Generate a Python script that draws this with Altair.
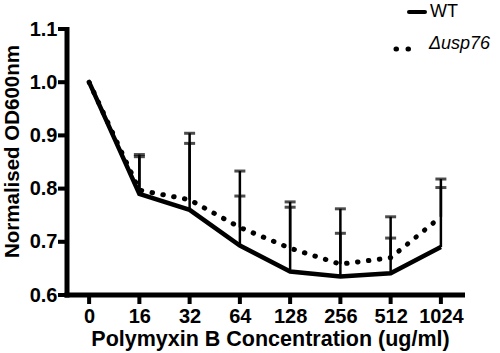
import altair as alt
import pandas as pd

conc = ["0", "16", "32", "64", "128", "256", "512", "1024"]
wt_mean = [1.0, 0.79, 0.76, 0.693, 0.644, 0.635, 0.641, 0.69]
wt_upper = [1.0, 0.864, 0.904, 0.833, 0.775, 0.762, 0.747, 0.818]
usp_mean = [1.0, 0.797, 0.779, 0.727, 0.688, 0.658, 0.670, 0.747]
usp_upper = [1.0, 0.860, 0.885, 0.786, 0.765, 0.716, 0.707, 0.802]
y_ticks = [0.6, 0.7, 0.8, 0.9, 1.0, 1.1]

series_names = ["WT", "Δusp76"]

rows = []
for i, c in enumerate(conc):
    rows.append({"conc": c, "series": "WT", "mean": wt_mean[i], "upper": wt_upper[i]})
    rows.append({"conc": c, "series": "Δusp76", "mean": usp_mean[i], "upper": usp_upper[i]})
df = pd.DataFrame(rows)

FONT = "Liberation Sans"

axis_style = dict(
    grid=False, domain=False,
    tickSize=8, tickOpacity=0,
    labelFont=FONT, labelFontSize=20, labelFontWeight="bold", labelColor="#000000",
    titleFont=FONT, titleFontWeight="bold", titleColor="#000000",
)

x_axis = alt.Axis(title="Polymyxin B Concentration (ug/ml)", labelAngle=0,
                  labelPadding=3, titleX=203, titleY=44, titleBaseline="middle",
                  titleFontSize=21.5, **axis_style)
y_axis = alt.Axis(title="Normalised OD600nm", values=y_ticks,
                  format=".1f", labelPadding=2, titleX=-55, titleY=122, titleAngle=-90,
                  titleBaseline="middle", titleAlign="center", titleFontSize=20.5,
                  **axis_style)

x_scale = alt.Scale(type="point", padding=0.44)
x_enc = alt.X("conc:O", sort=conc, scale=x_scale, axis=x_axis)
y_scale = alt.Scale(domain=[0.6, 1.1], nice=False, zero=False)
y_enc = alt.Y("mean:Q", scale=y_scale, axis=y_axis)

base = alt.Chart(df).encode(x=x_enc)

wt_line = base.transform_filter(alt.datum.series == "WT").mark_line(
    color="black", strokeWidth=4.5, strokeJoin="miter").encode(y=y_enc)
usp_line = base.transform_filter(alt.datum.series == "Δusp76").mark_line(
    color="black", strokeWidth=5, strokeDash=[0.5, 10.5], strokeCap="round").encode(y=y_enc)

bars = base.transform_filter(alt.datum.upper > alt.datum.mean)
err_rule = bars.mark_rule(color="black", strokeWidth=2.5).encode(y=y_enc, y2="upper:Q")
err_cap = bars.mark_tick(color="black", orient="horizontal", size=11, thickness=3).encode(
    y=alt.Y("upper:Q", scale=y_scale, axis=y_axis))

# axis lines and ticks drawn as filled rectangles
ytick_df = pd.DataFrame({"tick": y_ticks})
xtick_df = pd.DataFrame({"conc": conc})
y_domain = alt.Chart(xtick_df).transform_aggregate(n="count()").mark_rect(
    color="black", opacity=1).encode(
    x=alt.value(-2.5), x2=alt.value(2.5), y=alt.value(-2), y2=alt.value(268.5))
x_domain = alt.Chart(xtick_df).transform_aggregate(n="count()").mark_rect(
    color="black", opacity=1).encode(
    x=alt.value(-2.5), x2=alt.value(398), y=alt.value(263.5), y2=alt.value(268.5))
y_tick_marks = alt.Chart(ytick_df).transform_calculate(
    lo="datum.tick - 0.0038", hi="datum.tick + 0.0038").mark_rect(
    color="black", opacity=1).encode(
    y=alt.Y("lo:Q", scale=y_scale, axis=y_axis), y2="hi:Q",
    x=alt.value(-9), x2=alt.value(0))
x_tick_marks = alt.Chart(xtick_df).mark_bar(
    color="black", opacity=1, width=4).encode(
    x=alt.X("conc:O", sort=conc, scale=x_scale, axis=x_axis),
    y=alt.value(266), y2=alt.value(275))

# legend
leg_df = pd.DataFrame({"series": series_names})
leg_wt_line = alt.Chart(leg_df).transform_filter(alt.datum.series == "WT").mark_rule(
    color="black", strokeWidth=4, strokeCap="round").encode(
    x=alt.value(342), x2=alt.value(358), y=alt.value(-17))
leg_wt_text = alt.Chart(leg_df).transform_filter(alt.datum.series == "WT").mark_text(
    font=FONT, fontSize=18, align="left", baseline="middle", color="black").encode(
    x=alt.value(363), y=alt.value(-17), text="series:N")
leg_usp_dots = alt.Chart(leg_df).transform_filter(alt.datum.series == "Δusp76").mark_rule(
    color="black", strokeWidth=5, strokeDash=[0.5, 11.5], strokeCap="round").encode(
    x=alt.value(329), x2=alt.value(345), y=alt.value(20))
leg_usp_text = alt.Chart(leg_df).transform_filter(alt.datum.series == "Δusp76").mark_text(
    font=FONT, fontSize=18, fontStyle="italic", align="left", baseline="middle", color="black").encode(
    x=alt.value(362), y=alt.value(15), text="series:N")

chart = alt.layer(
    wt_line, usp_line, err_rule, err_cap,
    y_domain, x_domain, y_tick_marks, x_tick_marks,
    leg_wt_line, leg_wt_text, leg_usp_dots, leg_usp_text
).properties(
    width=396, height=266,
    autosize=alt.AutoSizeParams(type="none"),
    padding={"left": 67, "top": 29, "right": 37, "bottom": 58},
    background="white",
).configure_view(stroke=None)

chart.save("out.html", embed_options={"renderer": "svg", "actions": False})
